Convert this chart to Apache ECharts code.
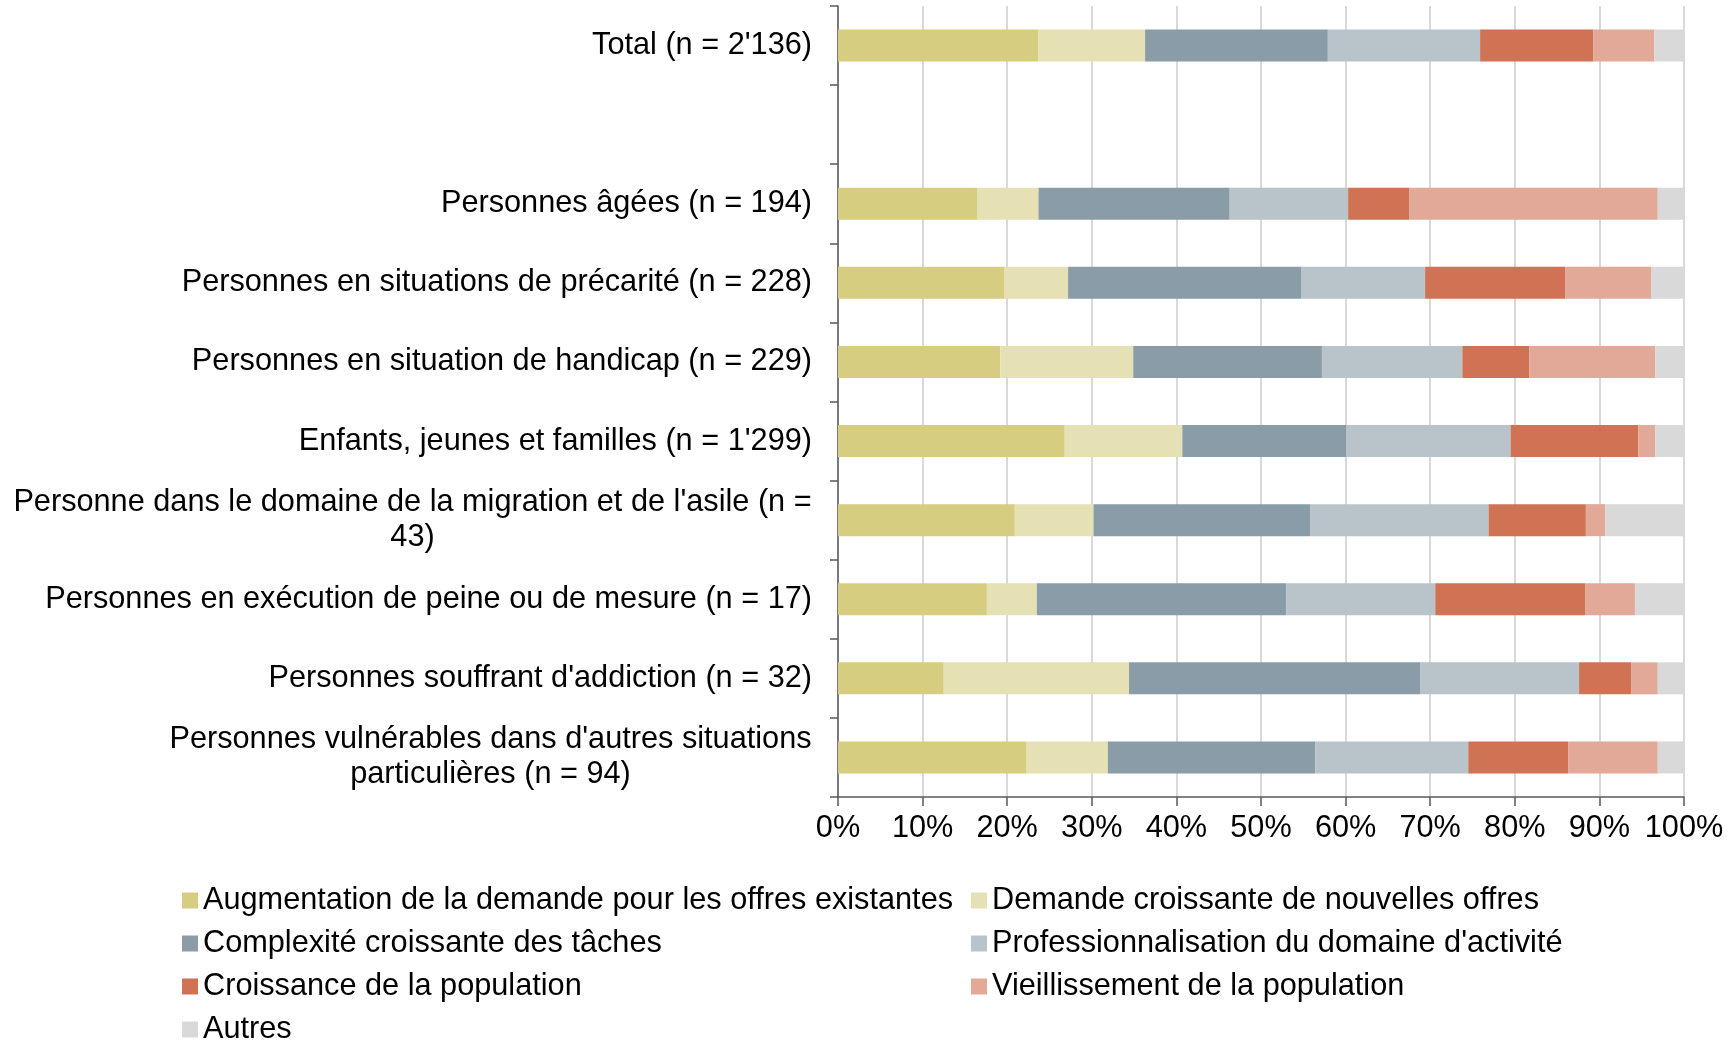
<!DOCTYPE html>
<html>
<head>
<meta charset="utf-8">
<script src="https://cdn.jsdelivr.net/npm/echarts@6/dist/echarts.min.js"></script>
<style>
  html, body { margin: 0; padding: 0; background: #fff; }
  #demo { width: 1729px; height: 1040px; }
</style>
</head>
<body>
<div id="demo"></div>
<script>
// categories, top to bottom (the empty one is the gap under Total)
var categories = [
    "Total (n = 2'136)",
    "",
    "Personnes âgées (n = 194)",
    "Personnes en situations de précarité (n = 228)",
    "Personnes en situation de handicap (n = 229)",
    "Enfants, jeunes et familles (n = 1'299)",
    "Personne dans le domaine de la migration et de l'asile (n =\n43)",
    "Personnes en exécution de peine ou de mesure (n = 17)",
    "Personnes souffrant d'addiction (n = 32)",
    "Personnes vulnérables dans d'autres situations\nparticulières (n = 94)"
];
var seriesNames = [
    "Augmentation de la demande pour les offres existantes",
    "Demande croissante de nouvelles offres",
    "Complexité croissante des tâches",
    "Professionnalisation du domaine d'activité",
    "Croissance de la population",
    "Vieillissement de la population",
    "Autres"
];
var augmentation   = [23.7, null, 16.5, 19.7, 19.2, 26.8, 20.9, 17.6, 12.5, 22.3];
var nouvelles      = [12.6, null,  7.2,  7.5, 15.7, 13.9,  9.3,  5.9, 21.9,  9.6];
var complexite     = [21.6, null, 22.6, 27.6, 22.3, 19.4, 25.6, 29.5, 34.4, 24.5];
var profession     = [18.0, null, 14.0, 14.6, 16.6, 19.4, 21.1, 17.6, 18.8, 18.1];
var croissance     = [13.4, null,  7.2, 16.6,  7.9, 15.1, 11.5, 17.7,  6.2, 11.8];
var vieillissement = [ 7.2, null, 29.4, 10.1, 14.9,  2.0,  2.3,  5.9,  3.1, 10.6];
var autres         = [ 3.5, null,  3.1,  3.9,  3.4,  3.4,  9.3,  5.8,  3.1,  3.1];
var xTicks = [0, 10, 20, 30, 40, 50, 60, 70, 80, 90, 100];

var colors = ['#d7cd80', '#e5e1b4', '#899ca7', '#b8c4ca', '#d07254', '#e2a998', '#d9d9d9'];
var allData = [augmentation, nouvelles, complexite, profession, croissance, vieillissement, autres];

var FONT = '"Liberation Sans", Arial, sans-serif';
var FS = 30.7;

// multi-line labels: lines centred inside a right-aligned block
var ctx = document.createElement('canvas').getContext('2d');
ctx.font = FS + 'px "Liberation Sans"';
var rich = {};
categories.forEach(function (c, i) {
    if (c.indexOf('\n') >= 0) {
        var w = 0;
        c.split('\n').forEach(function (line) { w = Math.max(w, ctx.measureText(line).width); });
        rich['c' + i] = { width: Math.ceil(w), align: 'center', fontSize: FS, lineHeight: 35, color: '#000', fontFamily: FONT };
    }
});

var myChart = echarts.init(document.getElementById('demo'));

var series = [];
for (var i = 0; i < seriesNames.length; i++) {
    series.push({
        name: seriesNames[i],
        type: 'bar',
        stack: 'total',
        barWidth: 32,
        itemStyle: { color: colors[i] },
        emphasis: { disabled: true },
        data: allData[i]
    });
}

var legendText = { fontSize: FS, color: '#000', fontFamily: FONT, lineHeight: 30 };
function legendAt(left, top, names) {
    return {
        orient: 'vertical',
        left: left, top: top, padding: 0,
        icon: 'rect', itemWidth: 16, itemHeight: 16, itemGap: 12,
        textStyle: legendText,
        data: names
    };
}

var option = {
    animation: false,
    textStyle: { fontFamily: FONT },
    grid: { left: 838, right: 45, top: 6, bottom: 243, containLabel: false },
    legend: [
        legendAt(182, 885, [seriesNames[0], seriesNames[2], seriesNames[4]]),
        legendAt(182, 1014, [seriesNames[6]]),
        legendAt(971, 885, [seriesNames[1], seriesNames[3], seriesNames[5]])
    ],
    xAxis: {
        type: 'value',
        min: xTicks[0], max: xTicks[xTicks.length - 1], interval: 10,
        axisLine: { show: true, lineStyle: { color: '#595959', width: 1.5 } },
        axisTick: { show: true, length: 9, lineStyle: { color: '#595959', width: 1.5 } },
        axisLabel: { formatter: '{value}%', fontSize: FS, color: '#000', margin: 16, fontFamily: FONT },
        splitLine: { show: true, lineStyle: { color: '#d9d9d9', width: 2 } }
    },
    yAxis: {
        type: 'category',
        inverse: true,
        data: categories,
        axisLine: { show: true, lineStyle: { color: '#595959', width: 1.5 } },
        axisTick: { show: true, length: 8, lineStyle: { color: '#595959', width: 1.5 } },
        axisLabel: {
            fontSize: FS, color: '#000', margin: 26, lineHeight: 35, fontFamily: FONT,
            rich: rich,
            formatter: function (value) {
                if (value.indexOf('\n') < 0) return value;
                var key = 'c' + categories.indexOf(value);
                return value.split('\n').map(function (l) { return '{' + key + '|' + l + '}'; }).join('\n');
            }
        },
        splitLine: { show: false }
    },
    series: series
};

myChart.setOption(option);
</script>
</body>
</html>
